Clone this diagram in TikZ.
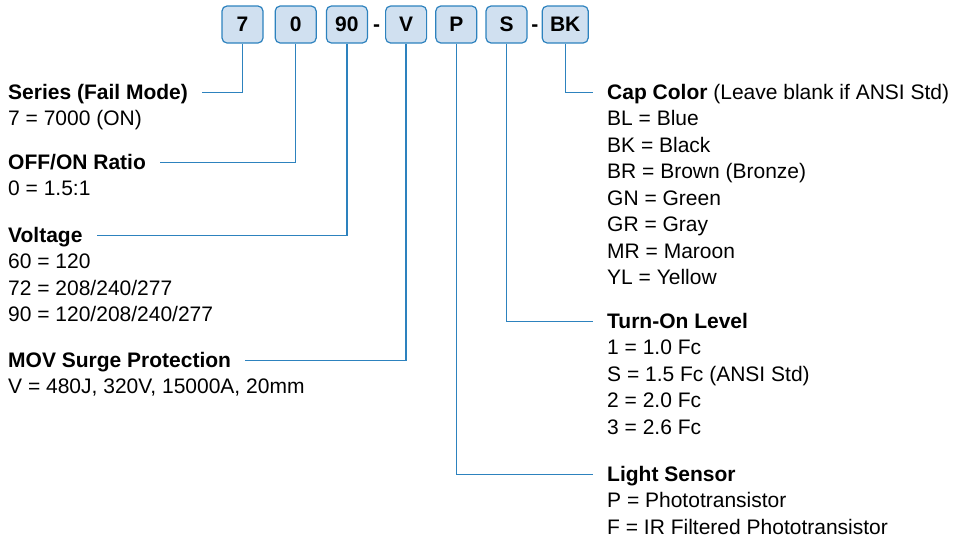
\documentclass[tikz,border=0pt]{standalone}
\usepackage{fontspec}
\setmainfont{Liberation Sans}
\usetikzlibrary{positioning}
\definecolor{codeblue}{RGB}{45,130,190}
\definecolor{codefill}{RGB}{208,224,240}

\begin{document}
\begin{tikzpicture}[
  x=1pt, y=-1pt,
  codebox/.style={draw=codeblue, fill=codefill, rounded corners=5pt, line width=1.2pt,
    minimum width=41pt, minimum height=37pt, inner xsep=5pt,
    font=\fontsize{21}{25}\selectfont\bfseries},
  sepmark/.style={inner sep=0pt, yshift=-4pt, font=\fontsize{21}{25}\selectfont\bfseries},
  head/.style={anchor=base west, inner xsep=0pt, text height=16pt, text depth=3pt,
    font=\fontsize{21}{26.5}\selectfont\bfseries},
  vals/.style={anchor=base west, inner sep=0pt, align=left,
    font=\fontsize{21}{26.5}\selectfont},
  conn/.style={draw=codeblue, line width=1.3pt, shorten >=14pt}
]
\useasboundingbox (0,0) rectangle (964,539);

% part number boxes
\node[codebox] (b7) at (242.5,24.5) {7};
\node[codebox, right=11pt of b7] (b0) {0};
\node[codebox, right=9pt of b0] (b90) {90};
\node[codebox, right=17pt of b90] (bV) {V};
\node[codebox, right=8pt of bV] (bP) {P};
\node[codebox, right=8pt of bP] (bS) {S};
\node[codebox, right=14pt of bS, minimum width=46pt] (bBK) {BK};
\node[sepmark, right=5pt of b90] (dash1) {-};
\node[sepmark, right=3.5pt of bS] (dash2) {-};

% left column (vals sit on the baseline of their last line)
\node[head] (series) at (8,99) {Series (Fail Mode)};
\node[vals] (seriesv) at ([yshift=-26.5pt]series.base west) {7 = 7000 (ON)};
\node[head] (ratio) at (8,169) {OFF/ON Ratio};
\node[vals] (ratiov) at ([yshift=-26.5pt]ratio.base west) {0 = 1.5:1};
\node[head] (volt) at (8,242) {Voltage};
\node[vals] (voltv) at ([yshift=-79.5pt]volt.base west)
  {60 = 120\\72 = 208/240/277\\90 = 120/208/240/277};
\node[head] (mov) at (8,367) {MOV Surge Protection};
\node[vals] (movv) at ([yshift=-26.5pt]mov.base west) {V = 480J, 320V, 15000A, 20mm};

% right column
\node[head] (cap) at (607,99) {Cap Color \mdseries(Leave blank if ANSI Std)};
\node[vals] (capv) at ([yshift=-185.5pt]cap.base west)
  {BL = Blue\\BK = Black\\BR = Brown (Bronze)\\GN = Green\\GR = Gray\\MR = Maroon\\YL = Yellow};
\node[head] (level) at (607,328) {Turn-On Level};
\node[vals] (levelv) at ([yshift=-106pt]level.base west)
  {1 = 1.0 Fc\\S = 1.5 Fc (ANSI Std)\\2 = 2.0 Fc\\3 = 2.6 Fc};
\node[head] (sensor) at (607,481) {Light Sensor};
\node[vals] (sensorv) at ([yshift=-53pt]sensor.base west)
  {P = Phototransistor\\F = IR Filtered Phototransistor};

% connectors
\draw[conn] (b7.south) |- (series.east);
\draw[conn] (b0.south) |- (ratio.east);
\draw[conn] (b90.south) |- (volt.east);
\draw[conn] (bV.south) |- (mov.east);
\draw[conn] (bP.south) |- (sensor.west);
\draw[conn] (bS.south) |- (level.west);
\draw[conn] (bBK.south) |- (cap.west);
\end{tikzpicture}
\end{document}
